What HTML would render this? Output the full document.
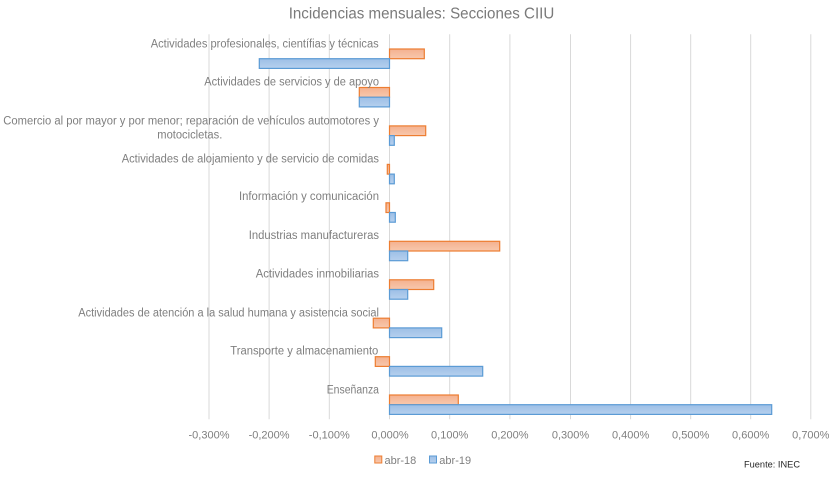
<!DOCTYPE html>
<html>
<head>
<meta charset="utf-8">
<style>
  html,body{margin:0;padding:0;background:#fff;}
  svg{display:block;}
  text{font-family:"Liberation Sans",sans-serif;}
</style>
</head>
<body>
<svg width="840" height="479" viewBox="0 0 840 479" xmlns="http://www.w3.org/2000/svg">
  <defs>
    <linearGradient id="go" x1="0" y1="0" x2="0" y2="1">
      <stop offset="0" stop-color="#f4b18f"/>
      <stop offset="1" stop-color="#f8c8ad"/>
    </linearGradient>
    <linearGradient id="gb" x1="0" y1="0" x2="0" y2="1">
      <stop offset="0" stop-color="#9dbfe6"/>
      <stop offset="1" stop-color="#b6d0ee"/>
    </linearGradient>
  </defs>
  <rect width="840" height="479" fill="#fff"/>

  <!-- title -->
  <text x="288.7" y="18.5" font-size="15.5" fill="#7a7a7a" textLength="265.6" lengthAdjust="spacingAndGlyphs">Incidencias mensuales: Secciones CIIU</text>

  <!-- gridlines -->
  <g stroke="#d9d9d9" stroke-width="1">
    <line x1="209" y1="34.3" x2="209" y2="419.3"/>
    <line x1="269.1" y1="34.3" x2="269.1" y2="419.3"/>
    <line x1="329.3" y1="34.3" x2="329.3" y2="419.3"/>
    <line x1="449.7" y1="34.3" x2="449.7" y2="419.3"/>
    <line x1="509.9" y1="34.3" x2="509.9" y2="419.3"/>
    <line x1="570.5" y1="34.3" x2="570.5" y2="419.3"/>
    <line x1="630.6" y1="34.3" x2="630.6" y2="419.3"/>
    <line x1="690.7" y1="34.3" x2="690.7" y2="419.3"/>
    <line x1="750.7" y1="34.3" x2="750.7" y2="419.3"/>
    <line x1="810.8" y1="34.3" x2="810.8" y2="419.3"/>
    <line x1="389.5" y1="34.3" x2="389.5" y2="419.3"/>
  </g>

  <!-- bars -->
  <g stroke-width="1.2">
    <rect x="389.5" y="49" width="34.8" height="9.7" fill="url(#go)" stroke="#ed7d31"/>
    <rect x="259.3" y="58.7" width="130.2" height="9.7" fill="url(#gb)" stroke="#5b9bd5"/>
    <rect x="359.3" y="87.5" width="30.2" height="9.7" fill="url(#go)" stroke="#ed7d31"/>
    <rect x="359.3" y="97.2" width="30.2" height="9.7" fill="url(#gb)" stroke="#5b9bd5"/>
    <rect x="389.5" y="125.9" width="36.2" height="9.7" fill="url(#go)" stroke="#ed7d31"/>
    <rect x="389.5" y="135.6" width="4.8" height="9.7" fill="url(#gb)" stroke="#5b9bd5"/>
    <rect x="387.3" y="164.4" width="2.2" height="9.7" fill="url(#go)" stroke="#ed7d31"/>
    <rect x="389.5" y="174.1" width="4.8" height="9.7" fill="url(#gb)" stroke="#5b9bd5"/>
    <rect x="386" y="202.8" width="3.5" height="9.7" fill="url(#go)" stroke="#ed7d31"/>
    <rect x="389.5" y="212.5" width="5.8" height="9.7" fill="url(#gb)" stroke="#5b9bd5"/>
    <rect x="389.5" y="241.3" width="110.2" height="9.7" fill="url(#go)" stroke="#ed7d31"/>
    <rect x="389.5" y="251" width="18.2" height="9.7" fill="url(#gb)" stroke="#5b9bd5"/>
    <rect x="389.5" y="279.8" width="44.2" height="9.7" fill="url(#go)" stroke="#ed7d31"/>
    <rect x="389.5" y="289.5" width="18.2" height="9.7" fill="url(#gb)" stroke="#5b9bd5"/>
    <rect x="373.3" y="318.2" width="16.2" height="9.7" fill="url(#go)" stroke="#ed7d31"/>
    <rect x="389.5" y="327.9" width="52.2" height="9.7" fill="url(#gb)" stroke="#5b9bd5"/>
    <rect x="375.3" y="356.7" width="14.2" height="9.7" fill="url(#go)" stroke="#ed7d31"/>
    <rect x="389.5" y="366.4" width="93.2" height="9.7" fill="url(#gb)" stroke="#5b9bd5"/>
    <rect x="389.5" y="395" width="68.8" height="9.7" fill="url(#go)" stroke="#ed7d31"/>
    <rect x="389.5" y="404.7" width="382.2" height="9.7" fill="url(#gb)" stroke="#5b9bd5"/>
  </g>

  <!-- category labels -->
  <g font-size="11.5" fill="#7f7f7f">
    <text x="150.7" y="47.3" textLength="228" lengthAdjust="spacingAndGlyphs">Actividades profesionales, científias y técnicas</text>
    <text x="204.3" y="85.7" textLength="174.7" lengthAdjust="spacingAndGlyphs">Actividades de servicios y de apoyo</text>
    <text x="3.3" y="124.7" textLength="375.7" lengthAdjust="spacingAndGlyphs">Comercio al por mayor y por menor; reparación de vehículos automotores y</text>
    <text x="157.3" y="138.3" textLength="65" lengthAdjust="spacingAndGlyphs">motocicletas.</text>
    <text x="121.7" y="162.3" textLength="257.3" lengthAdjust="spacingAndGlyphs">Actividades de alojamiento y de servicio de comidas</text>
    <text x="239" y="200" textLength="140" lengthAdjust="spacingAndGlyphs">Información y comunicación</text>
    <text x="248.7" y="239" textLength="130.3" lengthAdjust="spacingAndGlyphs">Industrias manufactureras</text>
    <text x="255.7" y="277.3" textLength="123.3" lengthAdjust="spacingAndGlyphs">Actividades inmobiliarias</text>
    <text x="78.3" y="316.3" textLength="300.7" lengthAdjust="spacingAndGlyphs">Actividades de atención a la salud humana y asistencia social</text>
    <text x="230.3" y="354.3" textLength="148" lengthAdjust="spacingAndGlyphs">Transporte y almacenamiento</text>
    <text x="326.7" y="393.3" textLength="52.3" lengthAdjust="spacingAndGlyphs">Enseñanza</text>
  </g>

  <!-- tick labels -->
  <g font-size="11" fill="#7f7f7f" text-anchor="middle">
    <text x="209" y="438.5">-0,300%</text>
    <text x="269.1" y="438.5">-0,200%</text>
    <text x="329.3" y="438.5">-0,100%</text>
    <text x="390" y="438.5">0,000%</text>
    <text x="449.7" y="438.5">0,100%</text>
    <text x="509.9" y="438.5">0,200%</text>
    <text x="570.5" y="438.5">0,300%</text>
    <text x="630.6" y="438.5">0,400%</text>
    <text x="690.7" y="438.5">0,500%</text>
    <text x="750.7" y="438.5">0,600%</text>
    <text x="810.8" y="438.5">0,700%</text>
  </g>

  <!-- legend -->
  <rect x="374.8" y="456" width="7" height="7" fill="url(#go)" stroke="#ed7d31" stroke-width="1"/>
  <text x="384.5" y="464" font-size="11" fill="#7f7f7f">abr-18</text>
  <rect x="429.5" y="456" width="7" height="7" fill="url(#gb)" stroke="#5b9bd5" stroke-width="1"/>
  <text x="439.3" y="464" font-size="11" fill="#7f7f7f">abr-19</text>

  <!-- source -->
  <text x="744" y="467.5" font-size="9.5" fill="#262626" textLength="56" lengthAdjust="spacingAndGlyphs">Fuente: INEC</text>
</svg>
</body>
</html>
